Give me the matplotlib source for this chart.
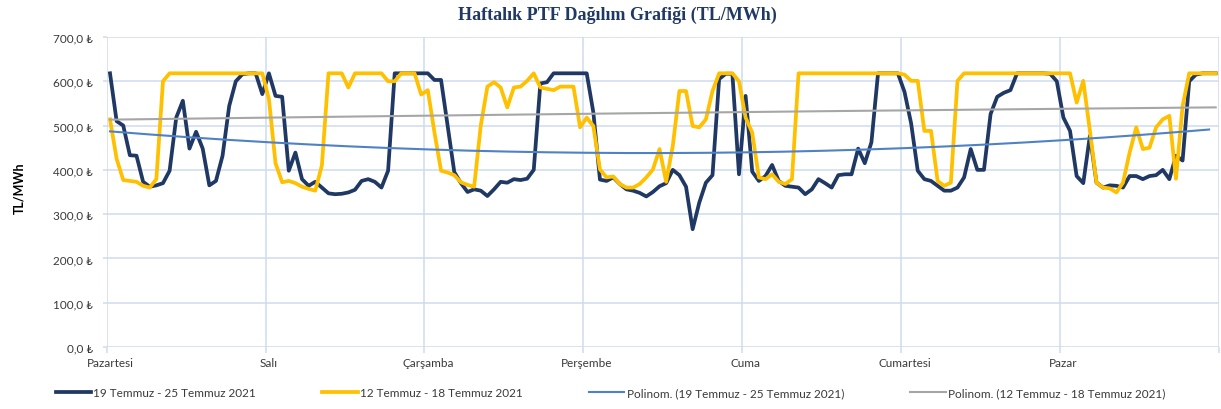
import numpy as np
import matplotlib
matplotlib.use("Agg")
import matplotlib.pyplot as plt
from matplotlib.lines import Line2D

# hourly PTF, Monday 00:00 .. Sunday 23:00 (168 points per week)
days = ["Pazartesi", "Salı", "Çarşamba", "Perşembe", "Cuma", "Cumartesi", "Pazar"]

week_jul19 = [
    618, 510, 500, 433, 432, 373, 362, 365, 370, 398, 518, 556,
    448, 486, 448, 365, 375, 432, 544, 600, 616, 618, 618, 571,
    618, 567, 565, 398, 439, 379, 364, 373, 360, 347, 345, 346,
    349, 355, 375, 379, 373, 360, 398, 618, 618, 618, 618, 618,
    618, 603, 603, 499, 395, 370, 350, 356, 353, 341, 356, 373,
    371, 379, 377, 380, 400, 595, 598, 618, 618, 618, 618, 618,
    618, 530, 378, 375, 383, 368, 356, 353, 348, 340, 350, 363,
    370, 400, 388, 362, 266, 326, 371, 388, 605, 617, 617, 390,
    567, 396, 375, 386, 411, 375, 364, 362, 360, 345, 356, 379,
    370, 360, 388, 390, 390, 448, 415, 462, 618, 618, 618, 618,
    576, 505, 398, 379, 375, 364, 353, 353, 360, 383, 447, 400,
    400, 526, 565, 574, 580, 618, 618, 618, 618, 618, 617, 600,
    518, 488, 386, 370, 477, 371, 360, 365, 364, 360, 386, 386,
    379, 386, 388, 400, 379, 432, 421, 600, 615, 618, 618, 618,
]

week_jul12 = [
    514, 425, 377, 375, 373, 364, 360, 379, 600, 618, 618, 618,
    618, 618, 618, 618, 618, 618, 618, 618, 618, 618, 618, 618,
    560, 415, 372, 375, 370, 362, 357, 353, 410, 618, 618, 618,
    586, 618, 618, 618, 618, 618, 600, 600, 618, 618, 618, 570,
    580, 485, 398, 394, 388, 372, 366, 362, 500, 588, 598, 586,
    541, 586, 588, 601, 618, 586, 583, 580, 588, 588, 588, 496,
    518, 499, 401, 383, 385, 368, 360, 360, 368, 383, 401, 447,
    373, 454, 578, 578, 499, 496, 514, 578, 618, 618, 618, 600,
    518, 484, 383, 379, 390, 373, 368, 379, 618, 618, 618, 618,
    618, 618, 618, 618, 618, 618, 618, 618, 618, 618, 618, 618,
    615, 601, 601, 488, 488, 375, 364, 371, 601, 618, 618, 618,
    618, 618, 618, 618, 618, 618, 618, 618, 618, 618, 618, 618,
    618, 618, 552, 601, 488, 371, 360, 358, 349, 371, 439, 496,
    447, 450, 496, 514, 522, 380, 544, 618, 618, 618, 618, 618,
]

label_jul19 = "19 Temmuz - 25 Temmuz 2021"
label_jul12 = "12 Temmuz - 18 Temmuz 2021"

C_JUL19, C_JUL12 = "#1f3864", "#ffc000"
C_TR19, C_TR12 = "#4f81c7", "#a6a6a6"
C_GRID = "#cfdbef"
FONT = ["Lato", "DejaVu Sans"]

plt.rcParams["font.family"] = FONT

n = len(week_jul19)
x = np.arange(n) + 0.5          # points sit in the middle of each category
xe = np.arange(1, n + 1)        # excel trendline x (1-based)
tr19 = np.polyval(np.polyfit(xe, week_jul19, 2), xe)
tr12 = np.polyval(np.polyfit(xe, week_jul12, 2), xe)

fig = plt.figure(figsize=(12.21, 4.10), dpi=100)
ax = fig.add_axes([106.7 / 1221, 1 - 348 / 410, (1219 - 106.7) / 1221, 310 / 410])

ax.plot(x, week_jul19, color=C_JUL19, lw=2.7, zorder=3, solid_joinstyle="round")
ax.plot(x, week_jul12, color=C_JUL12, lw=2.7, zorder=4, solid_joinstyle="round")
ax.plot(x[:-1], tr19[:-1], color=C_TR19, lw=1.5, zorder=5)
ax.plot(x, tr12, color=C_TR12, lw=1.5, zorder=5)

ax.set_xlim(0, n)
ax.set_ylim(0, 700)
ax.set_yticks(np.arange(0, 701, 100))
ax.set_yticklabels([f"{v:.1f}".replace(".", ",") + " ₺" for v in np.arange(0, 701, 100)],
                   fontsize=8.5, color="#3a3a3a")
ax.set_xticks(np.arange(0, n + 1, 24))
ax.set_xticklabels([])
ax.set_xticks(np.arange(0, n, 24) + 0.5, minor=True)
ax.set_xticklabels(days, minor=True, fontsize=8.5, color="#3a3a3a")
ax.tick_params(axis="x", which="minor", length=0, pad=7)
ax.tick_params(axis="x", which="major", length=4, color=C_GRID, width=1.1)
ax.tick_params(axis="y", length=3, color=C_GRID, width=1.1, pad=7)

ax.grid(True, which="major", color=C_GRID, lw=1.1)
ax.set_axisbelow(True)
for s in ax.spines.values():
    s.set_visible(False)

fig.text(617 / 1221, 1 - 15 / 410, "Haftalık PTF Dağılım Grafiği (TL/MWh)",
         ha="center", va="center", fontsize=13, fontweight="bold",
         color="#1f3864", family=["Liberation Serif", "DejaVu Serif"])
fig.text(19 / 1221, 1 - 188 / 410, "TL/MWh", rotation=90, ha="center", va="center",
         fontsize=9, fontweight="bold", color="black")

handles = [Line2D([], [], color=C_JUL19, lw=2.7),
           Line2D([], [], color=C_JUL12, lw=2.7),
           Line2D([], [], color=C_TR19, lw=1.5),
           Line2D([], [], color=C_TR12, lw=1.5)]
labels = [label_jul19, label_jul12,
          f"Polinom. ({label_jul19})", f"Polinom. ({label_jul12})"]
fig.legend(handles, labels, loc="center", bbox_to_anchor=(0.5, 1 - 394 / 410),
           ncol=4, frameon=False, fontsize=8.5, handlelength=3.0,
           handletextpad=0.2, columnspacing=5.6, labelcolor="#3a3a3a")

fig.savefig("out.png", dpi=100)
